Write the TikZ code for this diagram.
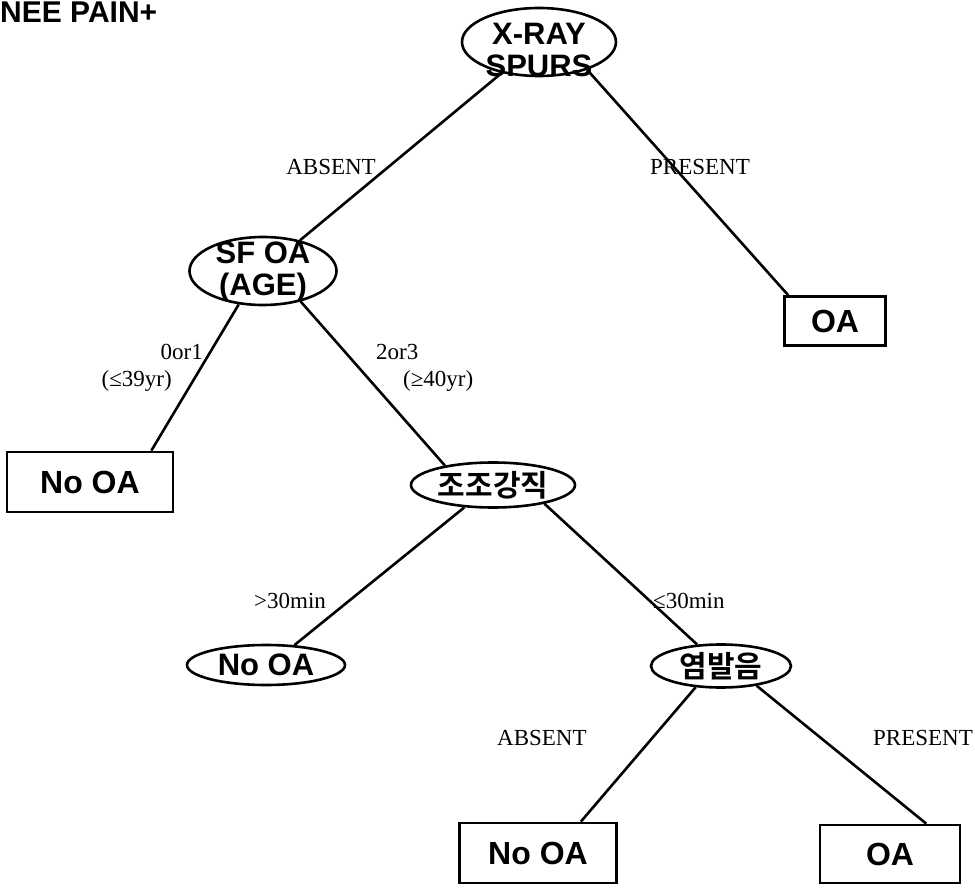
\documentclass[tikz,border=0pt]{standalone}
\usepackage{fontspec}
\setmainfont{Liberation Serif}
\setsansfont{Liberation Sans}
\newfontfamily\krfont{Noto Sans CJK KR}[BoldFont={* Bold}]
\usetikzlibrary{shapes.geometric}
\tikzset{
  oval/.style={draw,ellipse,line width=2.6pt,inner sep=0pt,
    font=\sffamily\bfseries\fontsize{31}{32}\selectfont},
  ovaltext/.style={align=center,inner sep=0pt,
    font=\sffamily\bfseries\fontsize{31}{32}\selectfont},
  leaf/.style={draw,rectangle,line width=2.6pt,inner sep=0pt,
    font=\sffamily\bfseries\fontsize{32}{34}\selectfont},
  kroval/.style={oval,font=\krfont\bfseries\fontsize{30}{32}\selectfont},
  branch/.style={line width=2.6pt},
  edgetext/.style={inner sep=0pt,font=\fontsize{23}{26}\selectfont},
  titletext/.style={inner sep=0pt,font=\sffamily\bfseries\fontsize{30}{32}\selectfont}
}

\begin{document}
\begin{tikzpicture}[x=1pt,y=-1pt]
  \useasboundingbox (0,0) rectangle (975,890);

  \node[titletext,anchor=base west] (title) at (0,23) {NEE PAIN+};

  \node[oval,minimum width=154pt,minimum height=68pt,
    label={[ovaltext,yshift=-8pt]center:X-RAY\\SPURS}] (xray) at (539,42) {};
  \node[oval,minimum width=147pt,minimum height=68pt,
    label={[ovaltext,yshift=-1pt]center:SF OA\\(AGE)}] (sfoa) at (263,271) {};
  \node[leaf,minimum width=101pt,minimum height=49pt] (oa1) at (835,321) {OA};
  \node[leaf,minimum width=166pt,minimum height=60pt] (nooa1) at (90,482) {No OA};
  \node[kroval,minimum width=164pt,minimum height=45pt] (jojo) at (493,485) {조조강직};
  \node[oval,minimum width=158pt,minimum height=40pt] (nooa2) at (266,665) {No OA};
  \node[kroval,minimum width=140pt,minimum height=43pt] (yeom) at (721,666) {염발음};
  \node[leaf,minimum width=157pt,minimum height=60pt] (nooa3) at (538,853) {No OA};
  \node[leaf,minimum width=140pt,minimum height=58pt] (oa2) at (890,854) {OA};

  \node[edgetext,anchor=east] (absent1) at (376,167) {ABSENT};
  \node[edgetext,anchor=west] (present1) at (650,167) {PRESENT};
  \node[edgetext,anchor=east] (age1) at (203,352) {0or1};
  \node[edgetext,anchor=east] (age1b) at (172,381) {(≤39yr)};
  \node[edgetext,anchor=west] (age2) at (376,352) {2or3};
  \node[edgetext,anchor=west] (age2b) at (403,381) {(≥40yr)};
  \node[edgetext,anchor=west] (long) at (254,601) {>30min};
  \node[edgetext,anchor=west] (short) at (653,601) {≤30min};
  \node[edgetext,anchor=west] (absent2) at (497,738) {ABSENT};
  \node[edgetext,anchor=east] (present2) at (973,738) {PRESENT};

  \draw[branch] (xray) -- (sfoa);
  \draw[branch] (xray.-30) -- ([xshift=5pt]oa1.north west);
  \draw[branch] (sfoa.234) -- ([xshift=-23pt]nooa1.north east);
  \draw[branch] (sfoa.-39) -- (jojo.158);
  \draw[branch] (jojo.218) -- (nooa2.35);
  \draw[branch] (jojo.-20) -- (yeom.138);
  \draw[branch] (yeom.220) -- ([xshift=-37pt]nooa3.north east);
  \draw[branch] (yeom.-29) -- ([xshift=-35pt]oa2.north east);
\end{tikzpicture}
\end{document}
